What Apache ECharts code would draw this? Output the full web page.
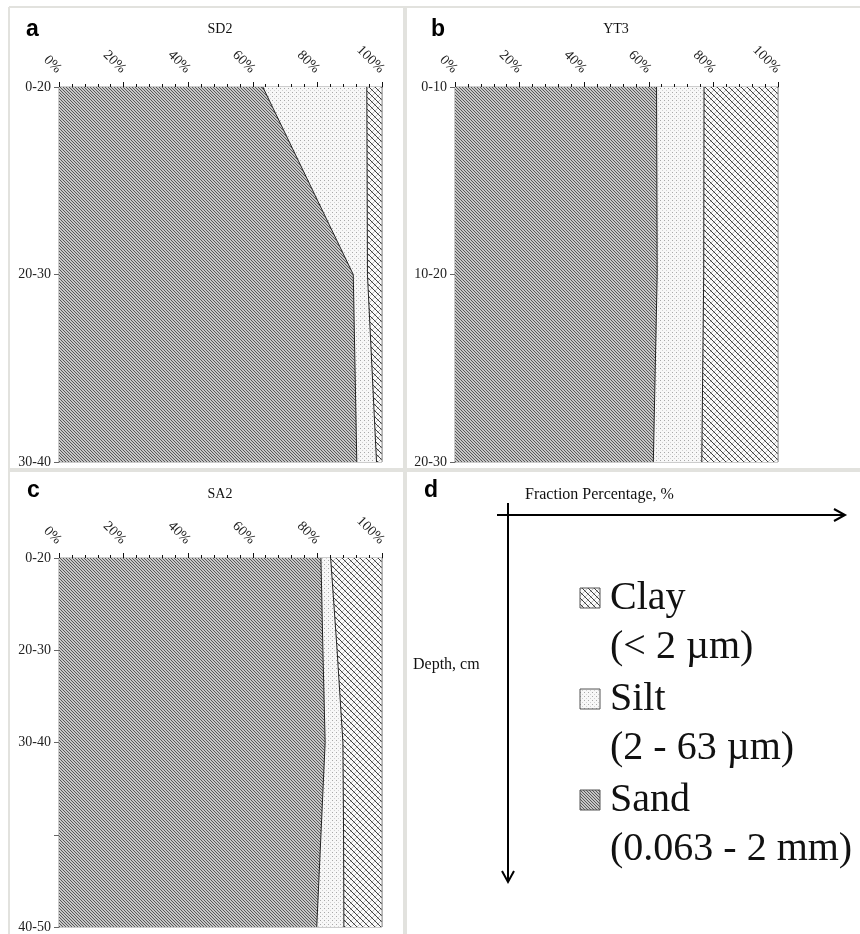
<!DOCTYPE html>
<html>
<head>
<meta charset="utf-8">
<script src="https://cdn.jsdelivr.net/npm/echarts@6/dist/echarts.min.js"></script>
<style>
  html, body { margin: 0; padding: 0; background: #fff; }
  #chart { width: 860px; height: 934px; }
</style>
</head>
<body>
<div id="chart"></div>
<script>
// panel a - SD2
const depthA = ['0-20', '20-30', '30-40'];
const sandA = [63.1, 91.1, 92.2];
const siltA = [32.2, 4.4, 6.1];
const clayA = [4.7, 4.5, 1.7];

// panel b - YT3
const depthB = ['0-10', '10-20', '20-30'];
const sandB = [62.4, 62.6, 61.4];
const siltB = [14.7, 14.4, 15.0];
const clayB = [22.9, 23.0, 23.6];

// panel c - SA2
const depthC = ['0-20', '20-30', '30-40', '', '40-50'];
const sandC = [81.1, 81.7, 82.4, 81.1, 79.8];
const siltC = [3.0, 4.4, 5.5, 7.0, 8.4];
const clayC = [15.9, 13.9, 12.1, 11.9, 11.8];

const legendItems = [
  { name: 'Clay', note: '(< 2 µm)' },
  { name: 'Silt', note: '(2 - 63 µm)' },
  { name: 'Sand', note: '(0.063 - 2 mm)' }
];

const SERIF = '"Liberation Serif", "Times New Roman", serif';

// small canvas textures for the hatched fills
const makePattern = (size, draw) => {
  const c = document.createElement('canvas');
  c.width = size;
  c.height = size;
  draw(c.getContext('2d'), size);
  return { image: c, repeat: 'repeat' };
};

const sandFill = makePattern(3, (ctx, n) => {
  ctx.fillStyle = '#c6c6c6';
  ctx.fillRect(0, 0, n, n);
  ctx.fillStyle = '#585858';
  for (let i = 0; i < n; i++) ctx.fillRect(i, i, 1, 1);
});

const siltFill = makePattern(4, (ctx, n) => {
  ctx.fillStyle = '#f7f7f7';
  ctx.fillRect(0, 0, n, n);
  ctx.fillStyle = '#a8a8a8';
  ctx.fillRect(0, 0, 1, 1);
  ctx.fillStyle = '#d0d0d0';
  ctx.fillRect(2, 2, 1, 1);
});

const clayFill = makePattern(6, (ctx, n) => {
  ctx.fillStyle = '#fafafa';
  ctx.fillRect(0, 0, n, n);
  ctx.fillStyle = '#c0c0c0';
  for (let i = 0; i < n; i++) ctx.fillRect(n - 1 - i, i, 1, 1);
  ctx.fillStyle = '#3e3e3e';
  for (let i = 0; i < n; i++) ctx.fillRect(i, i, 1, 1);
});

const panels = [
  { depth: depthA, sand: sandA, silt: siltA, clay: clayA, grid: { left: 59, top: 87, width: 323, height: 375 } },
  { depth: depthB, sand: sandB, silt: siltB, clay: clayB, grid: { left: 455, top: 87, width: 323, height: 375 } },
  { depth: depthC, sand: sandC, silt: siltC, clay: clayC, grid: { left: 59, top: 558, width: 323, height: 369 } }
];

const grids = panels.map(p => Object.assign({
  show: true,
  borderColor: '#9a9a9a',
  borderWidth: 1,
  backgroundColor: 'transparent'
}, p.grid));

const xAxes = panels.map((p, i) => ({
  type: 'value',
  gridIndex: i,
  position: 'top',
  min: 0,
  max: 100,
  interval: 20,
  axisLine: { show: true, lineStyle: { color: '#111', width: 1 } },
  axisTick: { show: true, length: 5, lineStyle: { color: '#111' } },
  minorTick: { show: true, splitNumber: 5, length: 3, lineStyle: { color: '#111' } },
  splitLine: { show: false },
  axisLabel: {
    formatter: '{value}%',
    rotate: 45,
    align: 'right',
    verticalAlign: 'middle',
    margin: 16,
    fontFamily: SERIF,
    fontSize: 14,
    color: '#222'
  }
}));

const yAxes = panels.map((p, i) => ({
  type: 'category',
  gridIndex: i,
  data: p.depth,
  inverse: true,
  boundaryGap: false,
  axisLine: { show: true, lineStyle: { color: '#888' } },
  axisTick: { show: true, length: 5, lineStyle: { color: '#666' } },
  axisLabel: { fontFamily: SERIF, fontSize: 14, color: '#222', margin: 8 },
  splitLine: { show: false }
}));

const series = [];
panels.forEach((p, i) => {
  const layers = [
    { name: 'Sand', data: p.sand, fill: sandFill, line: '#222' },
    { name: 'Silt', data: p.silt, fill: siltFill, line: '#222' },
    { name: 'Clay', data: p.clay, fill: clayFill, line: '#999' }
  ];
  layers.forEach(l => {
    series.push({
      name: l.name,
      type: 'line',
      xAxisIndex: i,
      yAxisIndex: i,
      stack: 'panel' + i,
      data: l.data,
      showSymbol: false,
      silent: true,
      lineStyle: { color: l.line, width: 1 },
      areaStyle: { color: l.fill, opacity: 1 },
      z: 2
    });
  });
});

// panel frames, letters, titles and the key in panel d
const sepColor = '#e2e2de';
const graphics = [
  { type: 'line', shape: { x1: 9, y1: 7, x2: 860, y2: 7 }, style: { stroke: sepColor, lineWidth: 2 } },
  { type: 'line', shape: { x1: 9, y1: 7, x2: 9, y2: 934 }, style: { stroke: sepColor, lineWidth: 2 } },
  { type: 'line', shape: { x1: 405, y1: 7, x2: 405, y2: 934 }, style: { stroke: sepColor, lineWidth: 4 } },
  { type: 'line', shape: { x1: 9, y1: 470, x2: 860, y2: 470 }, style: { stroke: sepColor, lineWidth: 4 } }
];

const addText = (text, x, y, size, opts) => {
  graphics.push({
    type: 'text',
    x: x,
    y: y,
    style: Object.assign({
      text: text,
      fontFamily: SERIF,
      fontSize: size,
      fill: '#111',
      verticalAlign: 'middle',
      align: 'left'
    }, opts || {})
  });
};

const letterStyle = { fontFamily: '"Liberation Sans", Arial, sans-serif', fontWeight: 'bold', fill: '#000' };
addText('a', 26, 30, 23, letterStyle);
addText('b', 431, 30, 23, letterStyle);
addText('c', 27, 491, 23, letterStyle);
addText('d', 424, 491, 23, letterStyle);

addText('SD2', 220, 29, 14, { align: 'center' });
addText('YT3', 616, 29, 14, { align: 'center' });
addText('SA2', 220, 494, 14, { align: 'center' });

// axis sketch in panel d
addText('Fraction Percentage, %', 525, 495, 16);
addText('Depth, cm', 413, 665, 16);
graphics.push(
  { type: 'line', shape: { x1: 497, y1: 515, x2: 843, y2: 515 }, style: { stroke: '#000', lineWidth: 2 } },
  { type: 'polyline', shape: { points: [[834, 509], [845, 515], [834, 521]] }, style: { stroke: '#000', lineWidth: 2, fill: null } },
  { type: 'line', shape: { x1: 508, y1: 503, x2: 508, y2: 880 }, style: { stroke: '#000', lineWidth: 2 } },
  { type: 'polyline', shape: { points: [[502, 871], [508, 882], [514, 871]] }, style: { stroke: '#000', lineWidth: 2, fill: null } }
);

const keyFills = { Clay: clayFill, Silt: siltFill, Sand: sandFill };
legendItems.forEach((item, k) => {
  const cy = 598 + k * 101;
  graphics.push({
    type: 'rect',
    shape: { x: 580, y: cy - 10, width: 20, height: 20 },
    style: { fill: keyFills[item.name], stroke: '#555', lineWidth: 1 }
  });
  addText(item.name, 610, cy, 40);
  addText(item.note, 610, cy + 49, 40);
});

const chart = echarts.init(document.getElementById('chart'), null, { renderer: 'canvas' });
chart.setOption({
  animation: false,
  backgroundColor: '#fff',
  grid: grids,
  xAxis: xAxes,
  yAxis: yAxes,
  series: series,
  graphic: { elements: graphics }
});
</script>
</body>
</html>
